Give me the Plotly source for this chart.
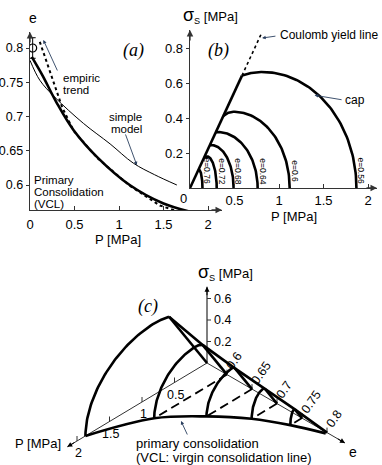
import numpy as np
import plotly.graph_objects as go

W, H = 382, 465

# ---------------- panel (a): e - P ----------------
vcl_P = [0.02, 0.14, 0.30, 0.49, 0.76, 1.12, 1.50, 1.80]
vcl_e = [0.787, 0.760, 0.720, 0.680, 0.640, 0.600, 0.573, 0.561]
model_P = [0.00, 0.11, 0.28, 0.60, 0.90, 1.16, 1.40, 1.65]
model_e = [0.782, 0.753, 0.728, 0.690, 0.660, 0.632, 0.615, 0.600]
empiric_P = [0.11, 0.36, 0.49, 0.76, 1.12, 1.46, 1.72]
empiric_e = [0.809, 0.714, 0.679, 0.639, 0.599, 0.570, 0.559]
exp_P = [0.03]
exp_e = [0.800]
exp_err = [0.015]
a_xticks = [0, 0.5, 1, 1.5, 2]
a_xlabels = ["0", "0.5", "1", "1.5", "2"]
a_yticks = [0.6, 0.65, 0.7, 0.75, 0.8]
a_ylabels = ["0.6", "0.65", "0.7", "0.75", "0.8"]

# ---------------- panel (b): caps ----------------
cap_e = [0.76, 0.72, 0.68, 0.64, 0.60, 0.56]
cap_pc = [0.14, 0.30, 0.49, 0.76, 1.12, 1.87]
cap_pint = [0.094, 0.163, 0.222, 0.290, 0.375, 0.584]
cap_ppk = [0.100, 0.190, 0.240, 0.310, 0.487, 0.810]
cap_spk = [0.104, 0.181, 0.245, 0.320, 0.436, 0.663]
coulomb_M = 1.1
coulomb_Pend = 0.81
b_xticks = [0.5, 1, 1.5, 2]
b_xlabels = ["0.5", "1", "1.5", "2"]
b_yticks = [0.2, 0.4, 0.6, 0.8]
b_ylabels = ["0.2", "0.4", "0.6", "0.8"]

# ---------------- panel (c): 3-D sketch ----------------
c_e = [0.56, 0.60, 0.65, 0.70, 0.75]
c_pc = [1.87, 1.12, 0.70, 0.39, 0.18]
c_pint = [0.584, 0.375, 0.262, 0.190, 0.110]
c_ppk = [0.810, 0.487, 0.290, 0.210, 0.120]
c_spk = [0.663, 0.436, 0.305, 0.215, 0.125]
c_vcl_P = [1.87, 1.12, 0.70, 0.39, 0.18, 0.02]
c_vcl_e = [0.56, 0.60, 0.65, 0.70, 0.75, 0.80]
c_Pticks = [0.5, 1, 1.5, 2]
c_Plabels = ["0.5", "1", "1.5", "2"]
c_eticks = [0.6, 0.65, 0.7, 0.75, 0.8]
c_elabels = ["0.6", "0.65", "0.7", "0.75", "0.8"]
c_sticks = [0.2, 0.4, 0.6]
c_slabels = ["0.2", "0.4", "0.6"]

# ---------------- styling ----------------
FONT = "Liberation Sans, Arial, sans-serif"
SERIF = "Liberation Serif, Times New Roman, serif"
AX = "#333333"
THICK = 2.6

# projection for panel (c) (pixel space)
O = (207.0, 363.0)
uP = (-65.0, 39.0)
ue = (500.0, 290.0)
us = (0.0, -107.5)
E0 = 0.56


def proj(P, e, s):
    P = np.asarray(P, float)
    e = np.asarray(e, float)
    s = np.asarray(s, float)
    x = O[0] + uP[0] * P + ue[0] * (e - E0) + us[0] * s
    y = O[1] + uP[1] * P + ue[1] * (e - E0) + us[1] * s
    return x, y


def cap_curve(pc, pint, ppk, spk, M, n=60):
    sint = M * pint
    Ps, Ss = [], []
    if spk > sint and ppk > pint:
        aL = (ppk - pint) / np.sqrt(1 - (sint / spk) ** 2)
        t0 = np.arccos((pint - ppk) / aL)
        t = np.linspace(t0, np.pi / 2, n)
        Ps += list(ppk + aL * np.cos(t))
        Ss += list(spk * np.sin(t))
    else:
        Ps.append(pint)
        Ss.append(sint)
    aR = pc - ppk
    t = np.linspace(np.pi / 2, 0, n)
    Ps += list(ppk + aR * np.cos(t))
    Ss += list(spk * np.sin(t))
    return np.array(Ps), np.array(Ss)


fig = go.Figure()
ann = []

# ================= panel (a) =================
fig.add_trace(go.Scatter(x=empiric_P, y=empiric_e, mode="lines",
                         line=dict(color="black", width=2, dash="dot"),
                         xaxis="x", yaxis="y"))
fig.add_trace(go.Scatter(x=model_P, y=model_e, mode="lines",
                         line=dict(color="black", width=1, shape="spline"),
                         xaxis="x", yaxis="y"))
fig.add_trace(go.Scatter(x=vcl_P, y=vcl_e, mode="lines",
                         line=dict(color="black", width=THICK, shape="spline"),
                         xaxis="x", yaxis="y"))
fig.add_trace(go.Scatter(x=exp_P, y=exp_e, mode="markers",
                         marker=dict(symbol="circle-open", size=8, color="black",
                                     line=dict(width=1.2)),
                         error_y=dict(type="data", array=exp_err, visible=True,
                                      color="black", thickness=1, width=3),
                         xaxis="x", yaxis="y"))

# ================= panel (b) =================
M = coulomb_M
big = len(cap_e) - 1
fig.add_trace(go.Scatter(x=[0, cap_pint[big]], y=[0, M * cap_pint[big]], mode="lines",
                         line=dict(color="black", width=THICK),
                         xaxis="x2", yaxis="y2"))
fig.add_trace(go.Scatter(x=[cap_pint[big], coulomb_Pend],
                         y=[M * cap_pint[big], M * coulomb_Pend], mode="lines",
                         line=dict(color="black", width=1.6, dash="dot"),
                         xaxis="x2", yaxis="y2"))
for i in range(len(cap_e)):
    Pc, Sc = cap_curve(cap_pc[i], cap_pint[i], cap_ppk[i], cap_spk[i], M)
    fig.add_trace(go.Scatter(x=Pc, y=Sc, mode="lines",
                             line=dict(color="black", width=THICK),
                             xaxis="x2", yaxis="y2"))
    ann.append(dict(x=cap_pc[i], y=0.095, xref="x2", yref="y2", xshift=4.5,
                    text="e=%g" % cap_e[i], showarrow=False, textangle=90,
                    font=dict(size=8.5, family=FONT)))

# ================= panel (c) =================
def add_c(xs, ys, width=1, dash=None, color="black", shape="linear"):
    fig.add_trace(go.Scatter(x=xs, y=ys, mode="lines",
                             line=dict(color=color, width=width, dash=dash, shape=shape),
                             xaxis="x3", yaxis="y3"))

# axes
P_tip, e_tip, s_tip = 2.15, 0.836, 0.71
x0, y0 = proj(0, E0, 0)
xp, yp = proj(P_tip, E0, 0)
xe, ye = proj(0, e_tip, 0)
xs_, ys_ = proj(0, E0, s_tip)
add_c([x0, xp], [y0, yp], width=1, color=AX)
add_c([x0, xe], [y0, ye], width=1, color=AX)
add_c([x0, xs_], [y0, ys_], width=1.5, color="#555555")
for (hx, hy, tx, ty) in [(xp, yp, float(xp) + 10 * 65 / 76, float(yp) - 10 * 39 / 76),
                         (xe, ye, float(xe) - 10 * 500 / 578, float(ye) - 10 * 290 / 578),
                         (xs_, ys_, xs_, float(ys_) + 10)]:
    ann.append(dict(x=float(hx), y=float(hy), ax=float(tx), ay=float(ty),
                    xref="x3", yref="y3", axref="x3", ayref="y3", text="",
                    showarrow=True, arrowhead=2, arrowsize=1, arrowwidth=1,
                    arrowcolor="black", standoff=0))

# ticks
tx_, ty_ = [], []
for p in c_Pticks:
    a, b = proj(p, E0, 0)
    tx_ += [float(a), float(a), None]
    ty_ += [float(b), float(b) - 5, None]
for ev in c_eticks:
    a, b = proj(0, ev, 0)
    tx_ += [float(a), float(a), None]
    ty_ += [float(b), float(b) - 5, None]
for sv in c_sticks:
    a, b = proj(0, E0, sv)
    tx_ += [float(a), float(a) + 4, None]
    ty_ += [float(b), float(b), None]
add_c(tx_, ty_, width=1, color=AX)

for p, lab in zip(c_Pticks, c_Plabels):
    a, b = proj(p, E0, 0)
    ann.append(dict(x=float(a) + 1, y=float(b) + 12, xref="x3", yref="y3", text=lab,
                    showarrow=False, font=dict(size=12.5, family=FONT)))
th = np.deg2rad(55)
for ev, lab in zip(c_eticks, c_elabels):
    a, b = proj(0, ev, 0)
    L = 6.9 * sum(ch.isdigit() for ch in lab) + 3.4 * lab.count(".")
    d = 4 + L / 2
    ann.append(dict(x=float(a) + d * np.cos(th), y=float(b) - 3 - d * np.sin(th),
                    xref="x3", yref="y3", text=lab, textangle=-55,
                    showarrow=False, font=dict(size=12.5, family=FONT)))
for sv, lab in zip(c_sticks, c_slabels):
    a, b = proj(0, E0, sv)
    ann.append(dict(x=float(a) + 5, y=float(b), xref="x3", yref="y3", text=lab,
                    xanchor="left", showarrow=False, font=dict(size=12.5, family=FONT)))

# dashed constant-e lines
for i in range(1, len(c_e)):
    a, b = proj([0, c_pc[i]], [c_e[i], c_e[i]], [0, 0])
    add_c(list(a), list(b), width=1.8, dash="9px,5px")

# VCL
a, b = proj(c_vcl_P, c_vcl_e, [0] * len(c_vcl_P))
add_c(list(a), list(b), width=THICK, shape="spline")

# caps + Coulomb segments
ridge_x, ridge_y = [], []
for i in range(len(c_e)):
    Pc, Sc = cap_curve(c_pc[i], c_pint[i], c_ppk[i], c_spk[i], M)
    a, b = proj(Pc, np.full_like(Pc, c_e[i]), Sc)
    add_c(list(a), list(b), width=THICK)
    a2, b2 = proj([0, c_pint[i]], [c_e[i], c_e[i]], [0, M * c_pint[i]])
    add_c(list(a2), list(b2), width=THICK)
    ridge_x.append(float(a2[1]))
    ridge_y.append(float(b2[1]))
a, b = proj(0, 0.8, 0)
ridge_x.append(float(a))
ridge_y.append(float(b))
add_c(ridge_x, ridge_y, width=THICK)

# ================= texts =================
def txt(x, y, s, size=12, anchor="center", fam=FONT, ref=("x3", "y3"), **kw):
    d = dict(x=x, y=y, xref=ref[0], yref=ref[1], text=s, showarrow=False,
             xanchor=anchor, borderpad=0, font=dict(size=size, family=fam, color="black"))
    d.update(kw)
    ann.append(d)

# panel (a)
txt(33, 18, "e", 14)
txt(133, 50, "<i>(a)</i>", 18, fam=SERIF)
txt(62, 77.5, "empiric", 11.5, "left")
txt(62, 90, "trend", 11.5, "left")
txt(125, 116.5, "simple", 11.5)
txt(126, 129, "model", 11.5)
txt(33, 179.5, "Primary", 11.5, "left")
txt(33, 191.5, "Consolidation", 11.5, "left")
txt(33, 203.5, "(VCL)", 11.5, "left")
txt(118, 239, "P [MPa]", 13)
ann.append(dict(x=0.15, y=0.8117, ax=0.315, ay=0.765, xref="x", yref="y", axref="x", ayref="y",
                text="", showarrow=True, arrowhead=2, arrowsize=0.8, arrowwidth=0.9, standoff=0))
ann.append(dict(x=1.20, y=0.629, ax=1.067, ay=0.676, xref="x", yref="y", axref="x", ayref="y",
                text="", showarrow=True, arrowhead=2, arrowsize=0.8, arrowwidth=0.9, standoff=0))

# panel (b)
txt(210, 15, "<span style='font-size:18px'>σ</span><sub>S</sub> [MPa]", 13)
txt(218, 50, "<i>(b)</i>", 18, fam=SERIF)
txt(279, 35, "Coulomb yield line", 12, "left")
txt(355, 100, "cap", 12)
txt(183, 198, "0", 13)
txt(294, 216, "P [MPa]", 13)
ann.append(dict(x=0.81, y=0.857, ax=0.977, ay=0.869, xref="x2", yref="y2", axref="x2", ayref="y2",
                text="", showarrow=True, arrowhead=2, arrowsize=0.8, arrowwidth=0.9, standoff=0))
ann.append(dict(x=1.40, y=0.53, ax=1.72, ay=0.503, xref="x2", yref="y2", axref="x2", ayref="y2",
                text="", showarrow=True, arrowhead=2, arrowsize=0.8, arrowwidth=0.9, standoff=0))

# panel (c)
txt(148, 306, "<i>(c)</i>", 18, fam=SERIF)
txt(225, 272, "<span style='font-size:18px'>σ</span><sub>S</sub> [MPa]", 13)
txt(62, 443, "P [MPa]", 13, "right")
txt(353, 452, "e", 14)
txt(135, 443, "primary consolidation", 13, "left")
txt(135, 457, "(VCL: virgin consolidation line)", 13, "left")
ann.append(dict(x=181, y=421, ax=188, ay=436, xref="x3", yref="y3", axref="x3", ayref="y3",
                text="", showarrow=True, arrowhead=2, arrowsize=0.8, arrowwidth=0.9, standoff=0))

# axis arrowheads for (a) and (b)
a_ytop = 0.8 + 16 / 685
a_ybot = 0.8 - 162 / 685
a_xend = 192 / 89
b_xend = 187 / 89
b_ytop = 158 / 175
for (x, y, xr, yr, axp, ayp) in [(0, a_ytop, "x", "y", 0, 12), (a_xend, a_ybot, "x", "y", -12, 0),
                                  (0, b_ytop, "x2", "y2", 0, 12), (b_xend, 0, "x2", "y2", -12, 0)]:
    ann.append(dict(x=x, y=y, xref=xr, yref=yr, ax=axp, ay=ayp, text="", showarrow=True,
                    arrowhead=2, arrowsize=1, arrowwidth=1.3, arrowcolor=AX, standoff=0))

axis_common = dict(showline=True, linecolor=AX, linewidth=1.3, showgrid=False, zeroline=False,
                   tickcolor=AX, fixedrange=True, automargin=False)
tf13 = dict(size=13, family=FONT, color="black")
tf125 = dict(size=12.5, family=FONT, color="black")

fig.update_layout(
    width=W, height=H, margin=dict(l=0, r=0, t=0, b=0, pad=0, autoexpand=False),
    paper_bgcolor="white", plot_bgcolor="rgba(0,0,0,0)", showlegend=False,
    font=dict(family=FONT, size=12, color="black"),
    xaxis=dict(domain=[30 / W, 222 / W], range=[0, a_xend], anchor="y",
               tickvals=a_xticks, ticktext=a_xlabels, ticks="inside", ticklen=4,
               tickfont=tf13, ticklabelstandoff=2, **axis_common),
    yaxis=dict(domain=[1 - 210 / H, 1 - 32 / H], range=[a_ybot, a_ytop], anchor="x",
               tickvals=a_yticks, ticktext=a_ylabels, ticks="outside", ticklen=3,
               tickfont=tf125, **axis_common),
    xaxis2=dict(domain=[190 / W, 377 / W], range=[0, b_xend], anchor="y2",
                tickvals=b_xticks, ticktext=b_xlabels, ticks="inside", ticklen=4,
                tickfont=tf13, **axis_common),
    yaxis2=dict(domain=[1 - 188 / H, 1 - 30 / H], range=[0, b_ytop], anchor="x2",
                tickvals=b_yticks, ticktext=b_ylabels, ticks="outside", ticklen=3,
                tickfont=tf13, **axis_common),
    xaxis3=dict(domain=[0, 1], range=[0, W], anchor="y3", visible=False, fixedrange=True),
    yaxis3=dict(domain=[0, 1], range=[H, 0], anchor="x3", visible=False, fixedrange=True),
    annotations=ann,
)

fig.write_html("out.html", config={"displayModeBar": False, "staticPlot": True},
               post_script="document.body.style.margin='0';document.body.style.overflow='hidden';")
